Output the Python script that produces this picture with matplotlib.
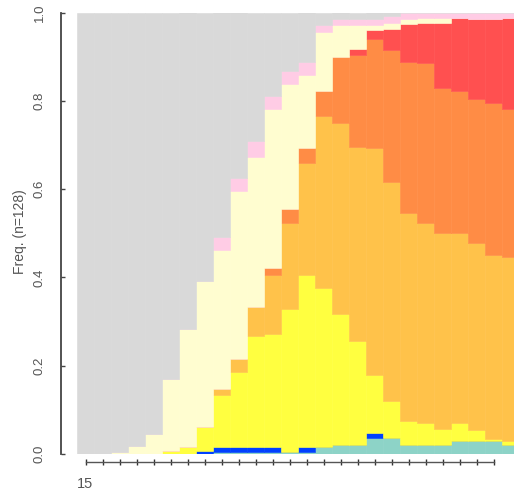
import matplotlib
matplotlib.use("Agg")
import matplotlib.pyplot as plt
import numpy as np

plt.rcParams['font.family'] = ['Liberation Sans', 'DejaVu Sans']

ages = list(range(15, 41))  # 26 bars
tick_labels = ["15"] + [""] * 24

# Stacked category shares per age (bottom to top)
teal   = [0, 0, 0, 0, 0, 0, 0, 0, 0.004, 0.004, 0.004, 0.004, 0.004, 0.004, 0.015, 0.020,
          0.020, 0.036, 0.036, 0.020, 0.020, 0.020, 0.030, 0.030, 0.030, 0.020]
blue   = [0, 0, 0, 0, 0, 0, 0, 0.006, 0.011, 0.011, 0.011, 0.011, 0, 0.011, 0, 0,
          0, 0.011, 0, 0, 0, 0, 0, 0, 0, 0]
yellow = [0, 0, 0, 0, 0, 0.006, 0.015, 0.055, 0.118, 0.170, 0.252, 0.256, 0.324, 0.390, 0.360, 0.298,
          0.236, 0.132, 0.083, 0.055, 0.051, 0.036, 0.041, 0.024, 0.005, 0.010]
lorange = [0, 0, 0, 0, 0, 0, 0, 0, 0.015, 0.030, 0.066, 0.134, 0.196, 0.253, 0.390, 0.432,
           0.439, 0.513, 0.498, 0.470, 0.453, 0.444, 0.429, 0.423, 0.415, 0.417]
orange = [0, 0, 0, 0, 0, 0, 0, 0, 0, 0, 0, 0.017, 0.030, 0.035, 0.057, 0.149,
          0.209, 0.247, 0.298, 0.343, 0.361, 0.328, 0.323, 0.328, 0.345, 0.334]
red    = [0, 0, 0, 0, 0, 0, 0, 0, 0, 0, 0, 0, 0, 0, 0, 0,
          0.014, 0.021, 0.047, 0.087, 0.092, 0.149, 0.164, 0.181, 0.191, 0.206]
lyellow = [0, 0, 0.005, 0.019, 0.045, 0.164, 0.267, 0.330, 0.315, 0.381, 0.340, 0.359, 0.284, 0.165, 0.134, 0.072,
           0.053, 0.011, 0.014, 0.011, 0.010, 0.010, 0, 0, 0, 0]
pink   = [0, 0, 0, 0, 0, 0, 0, 0, 0.029, 0.030, 0.036, 0.030, 0.029, 0.030, 0.015, 0.015,
          0.015, 0.015, 0.015, 0.014, 0.013, 0.013, 0.013, 0.013, 0.013, 0.013]
gray   = [1.0, 1.0, 0.995, 0.981, 0.955, 0.830, 0.718, 0.609, 0.508, 0.374, 0.291, 0.189, 0.133, 0.112, 0.029, 0.014,
          0.014, 0.014, 0.009, 0, 0, 0, 0, 0, 0, 0]

series = [teal, blue, yellow, lorange, orange, red, lyellow, pink, gray]
colors = ["#8DD3C7", "#0040FF", "#FFFF40", "#FFC24A", "#FF8C45", "#FF5050",
          "#FFFDD0", "#FFCCE5", "#D9D9D9"]

W, H = 514, 491
fig = plt.figure(figsize=(W / 100, H / 100), dpi=100)
ax = fig.add_axes([77 / W, 37 / H, 437 / W, 441.5 / H])

x = np.arange(len(ages))
bottom = np.zeros(len(ages))
for vals, c in zip(series, colors):
    v = np.array(vals, dtype=float)
    ax.bar(x, v, bottom=bottom, width=1.0, color=c, edgecolor=c, linewidth=0.4)
    bottom += v

ax.set_xlim(-0.5, -0.5 + 437 / 17)
ax.set_ylim(0, 1)

for s in ["top", "right"]:
    ax.spines[s].set_visible(False)

axcol = "#444444"
ax.spines["left"].set_position(("outward", 16 * 0.72))
ax.spines["left"].set_bounds(0, 1)
ax.spines["left"].set_color(axcol)
ax.spines["left"].set_linewidth(1.3)
ax.set_yticks([0, 0.2, 0.4, 0.6, 0.8, 1.0])
ax.set_yticklabels(["0.0", "0.2", "0.4", "0.6", "0.8", "1.0"], rotation=90, va="center")
ax.tick_params(axis="y", direction="in", length=3, width=1, color=axcol,
               labelsize=9.5, labelcolor="#555555", pad=11)

ax.spines["bottom"].set_position(("outward", 8 * 0.72))
ax.spines["bottom"].set_bounds(0, 24)
ax.spines["bottom"].set_color("#555555")
ax.spines["bottom"].set_linewidth(1.0)
ax.set_xticks(np.arange(25))
ax.set_xticklabels(tick_labels)
ax.tick_params(axis="x", direction="inout", length=5, width=1, color="#333333",
               labelsize=10.5, labelcolor="#555555", pad=8)

fig.text(20 / W, 1 - 232 / H, "Freq. (n=128)", rotation=90, ha="center", va="center",
         fontsize=10, color="#555555")

fig.savefig("out.png", dpi=100)
